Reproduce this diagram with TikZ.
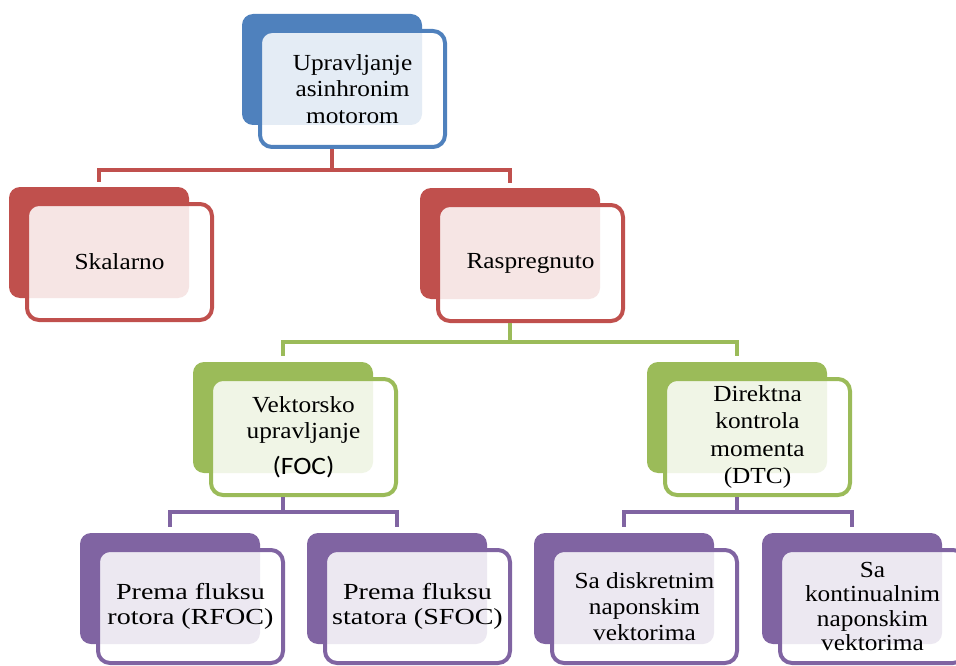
\documentclass[tikz,border=0pt]{standalone}
\usepackage{fontspec}
\setmainfont{Liberation Serif}[FakeStretch=1.1]
\newfontfamily\widefont{Liberation Serif}[FakeStretch=1.22]
\newfontfamily\carlito{Carlito}[FakeStretch=1.1]
\usetikzlibrary{calc}
\definecolor{cblue}{HTML}{4F81BD}
\definecolor{cred}{HTML}{C0504D}
\definecolor{cgreen}{HTML}{9BBB59}
\definecolor{cpurple}{HTML}{8064A2}
\tikzset{
  tabbox/.style={rectangle, rounded corners=11pt, minimum width=180pt, minimum height=111pt,
    inner sep=0pt, outer sep=0pt, anchor=north west, draw=none},
  cardbox/.style={rectangle, rounded corners=12pt, line width=4pt, fill=white,
    minimum width=185pt, minimum height=116pt, inner sep=0pt, anchor=north west,
    align=center, font=\fontsize{23}{26.5}\selectfont},
  conn/.style={line width=4pt},
}
% #1 name, #2 colour, #3 x, #4 y, #5 card outer height, #6 extra options, #7 text
\newcommand\orgnode[7]{%
  \node[tabbox, fill=#2] (#1tab) at (#3,#4) {};
  \node[cardbox, draw=#2, minimum height=#5pt-4pt, #6,
    path picture={\fill[#2!15, rounded corners=11pt] (#1tab.north west) rectangle (#1tab.south east);}]
    (#1) at ($(#3,#4)+(16,15)$) {#7};
}
\begin{document}
\begin{tikzpicture}[x=1pt, y=-1pt]
\useasboundingbox (0,0) rectangle (956,666);
\clip (0,0) rectangle (956,666);

\coordinate (busA) at (0,170);
\coordinate (busB) at (0,342);
\coordinate (busC) at (0,512);

\begin{scope}
\orgnode{top}{cblue}{242}{14}{120}{}{Upravljanje\\asinhronim\\motorom}
\orgnode{skal}{cred}{9}{187}{120}{}{Skalarno}
\orgnode{rasp}{cred}{420}{188}{120}{}{Raspregnuto}
\orgnode{foc}{cgreen}{193}{362}{120}{}{Vektorsko\\upravljanje\\[9pt]{\carlito\fontsize{25}{26}\selectfont (FOC)}}
\orgnode{dtc}{cgreen}{647}{362}{120}{font=\fontsize{23}{27.3}\selectfont}{Direktna\\kontrola\\momenta\\(DTC)}
\orgnode{rfoc}{cpurple}{80}{533}{117}{font=\fontsize{23}{25}\selectfont\widefont}{Prema fluksu\\rotora (RFOC)}
\orgnode{sfoc}{cpurple}{307}{533}{117}{font=\fontsize{23}{25}\selectfont\widefont}{Prema fluksu\\statora (SFOC)}
\orgnode{disk}{cpurple}{534}{533}{117}{font=\fontsize{23}{26}\selectfont}{Sa diskretnim\\naponskim\\vektorima}
\orgnode{kont}{cpurple}{762}{533}{117}{font=\fontsize{23}{24.5}\selectfont}{Sa\\kontinualnim\\naponskim\\vektorima}
\end{scope}

\draw[conn, cred] (toptab.center |- top.south) -- (toptab.center |- busA) -| ($(skaltab.north)+(0,-5)$);
\draw[conn, cred] (toptab.center |- busA) -| ($(rasptab.north)+(0,-5)$);
\draw[conn, cgreen] (rasptab.center |- rasp.south) -- (rasptab.center |- busB) -| ($(foctab.north)+(0,-6)$);
\draw[conn, cgreen] (rasptab.center |- busB) -| ($(dtctab.north)+(0,-6)$);
\draw[conn, cpurple] (foctab.center |- foc.south) -- (foctab.center |- busC) -| ($(rfoctab.north)+(0,-6)$);
\draw[conn, cpurple] (foctab.center |- busC) -| ($(sfoctab.north)+(0,-6)$);
\draw[conn, cpurple] (dtctab.center |- dtc.south) -- (dtctab.center |- busC) -| ($(disktab.north)+(0,-6)$);
\draw[conn, cpurple] (dtctab.center |- busC) -| ($(konttab.north)+(0,-6)$);
\end{tikzpicture}
\end{document}
